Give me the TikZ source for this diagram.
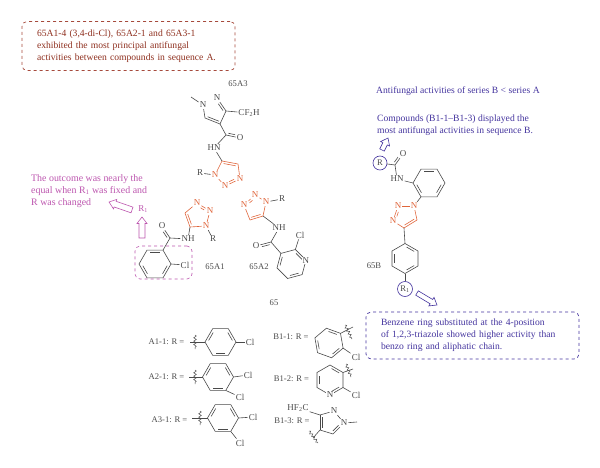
\documentclass[tikz,border=0pt]{standalone}
\usepackage{fontspec}
\setmainfont{Liberation Serif}
\usetikzlibrary{calc,decorations.pathmorphing}
\definecolor{inkgray}{HTML}{4A4A4A}
\definecolor{triorange}{HTML}{E0663C}
\definecolor{notered}{HTML}{8E2F1E}
\definecolor{boxred}{HTML}{A64A3C}
\definecolor{notepink}{HTML}{BC55AE}
\definecolor{noteblue}{HTML}{44349E}
\tikzset{
    bond/.style={inkgray, line width=0.6pt},
    tribond/.style={triorange, line width=0.6pt},
    atom/.style={inkgray, inner sep=1pt, font=\fontsize{9}{10}\selectfont},
    triatom/.style={triorange, inner sep=1pt, fill=white, font=\fontsize{9}{10}\selectfont},
    caption/.style={inkgray, inner sep=0pt, font=\fontsize{8.6}{10}\selectfont},
    notetext/.style={inner sep=0pt, anchor=west, align=left, font=\fontsize{9.6}{11.8}\selectfont},
    notebox/.style={draw, dashed, rounded corners=5pt, line width=0.7pt, inner xsep=15pt, inner ysep=6pt, text width=183pt, align=left, font=\fontsize{9.6}{11.8}\selectfont},
    hollow/.style={line width=0.6pt, line join=miter},
    wavy/.style={inkgray, line width=0.5pt, decorate, decoration={snake, amplitude=1.3pt, segment length=3.4pt}},
    nearone/.style={shorten <=5.5pt},
    neartwo/.style={shorten >=5.5pt},
}
% hexagon: name, centre x, centre y, radius, first angle, pen
\newcommand{\hexring}[6][bond]{
    \coordinate (#2c) at (#3,#4);
    \foreach \i in {1,...,6}
        \coordinate (#2\i) at ($(#2c)+({#6+60*\i}:#5)$);
    \draw[#1] (#21) -- (#22) -- (#23) -- (#24) -- (#25) -- (#26) -- cycle;
    \foreach \a/\b in {1/2,3/4,5/6}
        \draw[#1] ($(#2\a)!0.2!(#2c)!0.12!(#2\b)$) -- ($(#2\b)!0.2!(#2c)!0.12!(#2\a)$);
}
\newcommand{\dblbond}[3][bond]{
    \draw[shorten >=2pt, shorten <=2pt, #1] ($(#2)!2.2pt!90:(#3)$) -- ($(#3)!2.2pt!-90:(#2)$);
}
% block arrow outline: colour, half width of the shaft, tail, tip
\newcommand{\openarrow}[4]{
    \coordinate (neck) at ($(#4)!6.5pt!(#3)$);
    \draw[hollow, draw=#1] ($(#3)!#2!90:(#4)$) -- ($(neck)!#2!90:(#4)$) -- ($(neck)!5pt!90:(#4)$) -- (#4)
        -- ($(neck)!5pt!-90:(#4)$) -- ($(neck)!#2!-90:(#4)$) -- ($(#3)!#2!-90:(#4)$) -- cycle;
}
\begin{document}
\begin{tikzpicture}[x=1pt,y=-1pt]
    \useasboundingbox (0,0) rectangle (600,468);

    % notes
    \node[notebox, draw=boxred, text=notered, minimum height=49pt] (noteA) at (128.5,46)
        {65A1-4 (3,4-di-Cl), 65A2-1 and 65A3-1\\exhibited the most principal antifungal\\activities between compounds in sequence A.};
    \node[notetext, text=notepink, font=\fontsize{9.9}{11.9}\selectfont] (noteR) at (31,191)
        {The outcome was nearly the\\equal when R\textsubscript{1} was fixed and\\R was changed};
    \node[notetext, text=noteblue] (noteSeries) at (376,91) {Antifungal activities of series B {<} series A};
    \node[notetext, text=noteblue] (noteB) at (377,125)
        {Compounds (B1-1--B1-3) displayed the\\most antifungal activities in sequence B.};
    \node[notebox, draw=noteblue, text=noteblue, minimum height=47pt] (noteRing) at (472.5,335.5)
        {Benzene ring substituted at the 4-position\\of 1,2,3-triazole showed higher activity than\\benzo ring and aliphatic chain.};

    % 65A3
    \node[caption] (capAthree) at (238,84) {65A3};
    \node[atom] (aN1) at (203,105) {N};
    \node[atom] (aN2) at (217,98) {N};
    \coordinate (aC3) at (226,111);
    \coordinate (aC4) at (220,124);
    \coordinate (aC5) at (205,118);
    \coordinate (aMe) at (191,97);
    \coordinate (aCO) at (226,135);
    \node[atom] (aCF) at (249,113) {CF\textsubscript{2}H};
    \node[atom] (aO) at (240,138) {O};
    \node[atom] (aHN) at (214,148) {HN};
    \foreach \a/\b in {aMe/aN1,aN1/aC5,aC5/aC4,aC4/aC3,aC3/aN2,aC3/aCF,aC4/aCO,aCO/aHN,aCO/aO}
        \draw[bond] (\a) -- (\b);
    \dblbond{aC5}{aC4}
    \dblbond[bond, neartwo]{aC3}{aN2}
    \dblbond[bond, neartwo]{aCO}{aO}
    \coordinate (atC1) at (222,161);
    \coordinate (atC2) at (238,164);
    \node[triatom] (atN1) at (240,179) {N};
    \node[triatom] (atN2) at (225,186) {N};
    \node[triatom] (atN3) at (215,175) {N};
    \node[atom] (aR) at (200,173) {R};
    \foreach \a/\b in {atC1/atC2,atC2/atN1,atN1/atN2,atN2/atN3,atN3/atC1}
        \draw[tribond] (\a) -- (\b);
    \dblbond[tribond]{atC2}{atC1}
    \dblbond[tribond, nearone, neartwo]{atN2}{atN1}
    \draw[bond] (aHN) -- (atC1);
    \draw[bond] (aR) -- (atN3);

    % 65A1
    \hexring{bA}{155}{264}{16}{60}
    \coordinate (bCO) at (170,238);
    \node[atom] (bO) at (162,226) {O};
    \node[atom] (bNH) at (188,239) {NH};
    \node[atom] (bCl) at (185,265) {Cl};
    \coordinate (btC1) at (190,227);
    \coordinate (btC2) at (185,213);
    \node[triatom] (btN1) at (197,203) {N};
    \node[triatom] (btN2) at (210,211) {N};
    \node[triatom] (btN3) at (206,226) {N};
    \node[atom] (bR) at (213,239) {R};
    \foreach \a/\b in {btC1/btC2,btC2/btN1,btN1/btN2,btN2/btN3,btN3/btC1}
        \draw[tribond] (\a) -- (\b);
    \dblbond[tribond]{btC2}{btC1}
    \dblbond[tribond, nearone, neartwo]{btN2}{btN1}
    \foreach \a/\b in {bA4/bCO,bCO/bNH,bNH/btC1,btN3/bR,bA5/bCl,bCO/bO}
        \draw[bond] (\a) -- (\b);
    \dblbond[bond, neartwo]{bCO}{bO}
    \node[draw=notepink, dashed, rounded corners=5pt, line width=0.6pt, minimum width=57pt, minimum height=33pt] (bBox) at (163.5,262.5) {};
    \node[caption] (capAone) at (215,267) {65A1};

    % 65A2
    \coordinate (ctC1) at (263,216);
    \coordinate (ctC2) at (250,220);
    \node[triatom] (ctN1) at (244,205) {N};
    \node[triatom] (ctN2) at (255,195) {N};
    \node[triatom] (ctN3) at (266,202) {N};
    \node[atom] (cR) at (282,199) {R};
    \node[atom] (cNH) at (279,228) {NH};
    \coordinate (cCO) at (271,242);
    \node[atom] (cO) at (256,246) {O};
    \foreach \a/\b in {ctC1/ctC2,ctC2/ctN1,ctN1/ctN2,ctN2/ctN3,ctN3/ctC1}
        \draw[tribond] (\a) -- (\b);
    \dblbond[tribond]{ctC2}{ctC1}
    \dblbond[tribond, nearone, neartwo]{ctN2}{ctN1}
    \hexring{cP}{291.5}{264}{15}{-15}
    \node[atom, fill=white, inner sep=0.5pt] (cN) at (cP6) {N};
    \node[atom] (cCl) at (300,235) {Cl};
    \foreach \a/\b in {ctN3/cR,ctC1/cNH,cNH/cCO,cCO/cP4,cP5/cCl,cCO/cO}
        \draw[bond] (\a) -- (\b);
    \dblbond[bond, neartwo]{cCO}{cO}
    \node[caption] (capAtwo) at (259,267) {65A2};
    \node[caption] (capAll) at (274,303) {65};

    % pink marks
    \node[atom, text=notepink] (rOne) at (143,209) {R\textsubscript{1}};
    \coordinate (upTail) at (142,238);
    \coordinate (upTip) at (142,217);
    \coordinate (leftTail) at (132,210);
    \coordinate (leftTip) at (109,202);
    \openarrow{notepink}{3pt}{upTail}{upTip}
    \openarrow{notepink}{3pt}{leftTail}{leftTip}

    % 65B
    \node[draw=noteblue, circle, inner sep=0pt, minimum size=14pt, text=inkgray, line width=0.6pt, font=\fontsize{8.6}{10}\selectfont] (sR) at (380,163) {R};
    \coordinate (sCO) at (395,165);
    \node[atom] (sO) at (403,154) {O};
    \node[atom] (sHN) at (397,179) {HN};
    \hexring{sA}{429}{183}{16}{60}
    \node[triatom] (stN1) at (414,206) {N};
    \node[triatom] (stN2) at (398,206) {N};
    \node[triatom] (stN3) at (393,221) {N};
    \coordinate (stC1) at (404,228);
    \coordinate (stC2) at (417,220);
    \foreach \a/\b in {stN1/stN2,stN2/stN3,stN3/stC1,stC1/stC2,stC2/stN1}
        \draw[tribond] (\a) -- (\b);
    \dblbond[tribond]{stC1}{stC2}
    \dblbond[tribond, nearone, neartwo]{stN2}{stN3}
    \hexring{sB}{405}{258.5}{15}{-30}
    \node[draw=noteblue, circle, inner sep=0pt, minimum size=15pt, text=inkgray, line width=0.6pt, font=\fontsize{8.6}{10}\selectfont] (sRone) at (405,289) {R\textsubscript{1}};
    \foreach \a/\b in {sR/sCO,sCO/sHN,sHN/sA2,sA1/stN1,stC1/sB5,sB2/sRone,sCO/sO}
        \draw[bond] (\a) -- (\b);
    \dblbond[bond, neartwo]{sCO}{sO}
    \node[caption] (capB) at (374,266) {65B};
    \coordinate (blueUpTail) at (382,150);
    \coordinate (blueUpTip) at (388,138);
    \coordinate (blueDownTail) at (417,293);
    \coordinate (blueDownTip) at (437,305);
    \openarrow{noteblue}{2.5pt}{blueUpTail}{blueUpTip}
    \openarrow{noteblue}{2.5pt}{blueDownTail}{blueDownTip}

    % R groups of series A
    \node[caption] (lAone) at (166.5,342) {A1-1: R =};
    \hexring{rA}{220.5}{342}{15.5}{0}
    \coordinate (rAd) at (190,342);
    \coordinate (rAt) at (195,335);
    \coordinate (rAb) at (195,349);
    \node[atom] (rAc) at (250,342) {Cl};
    \draw[bond] (rAd) -- (rA3);
    \draw[bond] (rA6) -- (rAc);
    \draw[wavy] (rAt) -- (rAb);

    \node[caption] (lAtwo) at (166.5,377) {A2-1: R =};
    \hexring{rB}{218}{377}{15.5}{0}
    \coordinate (rBd) at (189,377);
    \coordinate (rBt) at (195,370);
    \coordinate (rBb) at (195,384);
    \node[atom] (rBc) at (248,375) {Cl};
    \node[atom] (rBe) at (240,397) {Cl};
    \draw[bond] (rBd) -- (rB3);
    \draw[bond] (rB6) -- (rBc);
    \draw[bond] (rB1) -- (rBe);
    \draw[wavy] (rBt) -- (rBb);

    \node[caption] (lAthree) at (169.5,420) {A3-1: R =};
    \hexring{rC}{223}{418}{15.5}{0}
    \coordinate (rCd) at (192,418);
    \coordinate (rCt) at (200,411);
    \coordinate (rCb) at (200,425);
    \node[atom] (rCc) at (253,417) {Cl};
    \node[atom] (rCe) at (240,443) {Cl};
    \draw[bond] (rCd) -- (rC3);
    \draw[bond] (rC6) -- (rCc);
    \draw[bond] (rC1) -- (rCe);
    \draw[wavy] (rCt) -- (rCb);

    % R groups of series B
    \node[caption] (lBone) at (291,337) {B1-1: R =};
    \hexring{rD}{329}{343}{15}{80}
    \node[atom] (rDc) at (356,357) {Cl};
    \coordinate (rDd) at (353,327);
    \coordinate (rDt) at (345,325);
    \coordinate (rDb) at (352,339);
    \draw[bond] (rD4) -- (rDd);
    \draw[bond] (rD5) -- (rDc);
    \draw[wavy] (rDt) -- (rDb);

    \node[caption] (lBtwo) at (291.5,379) {B1-2: R =};
    \hexring{rE}{330}{380}{15}{-30}
    \node[atom, fill=white, inner sep=0.5pt] (rEn) at (rE2) {N};
    \node[atom] (rEc) at (356,395) {Cl};
    \coordinate (rEd) at (353,369);
    \coordinate (rEt) at (346,364);
    \coordinate (rEb) at (351,377);
    \draw[bond] (rE6) -- (rEd);
    \draw[bond] (rE1) -- (rEc);
    \draw[wavy] (rEt) -- (rEb);

    \node[caption] (lBthree) at (292,421) {B1-3: R =};
    \node[atom] (rFh) at (298,408) {HF\textsubscript{2}C};
    \coordinate (rFa) at (320,415);
    \node[atom] (rFn) at (334,411) {N};
    \node[atom] (rFm) at (344,423) {N};
    \coordinate (rFk) at (333,434);
    \coordinate (rFj) at (320,430);
    \coordinate (rFe) at (357,422);
    \coordinate (rFd) at (313,438);
    \coordinate (rFt) at (309,431);
    \coordinate (rFb) at (318,443);
    \foreach \a/\b in {rFh/rFa,rFa/rFn,rFn/rFm,rFm/rFk,rFk/rFj,rFj/rFa,rFm/rFe,rFj/rFd}
        \draw[bond] (\a) -- (\b);
    \dblbond{rFa}{rFj}
    \dblbond[bond, neartwo]{rFk}{rFm}
    \draw[wavy] (rFt) -- (rFb);
\end{tikzpicture}
\end{document}
